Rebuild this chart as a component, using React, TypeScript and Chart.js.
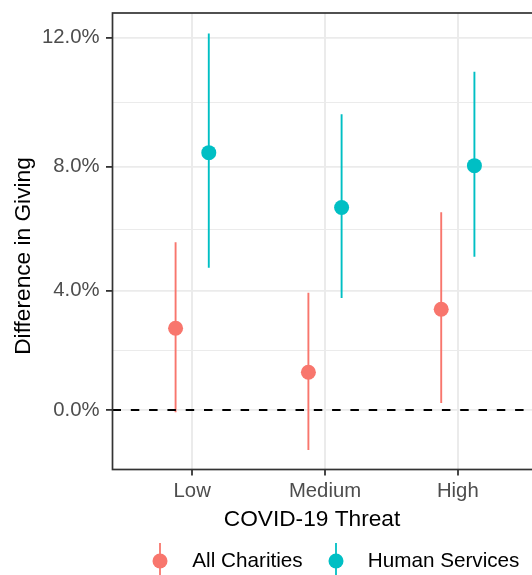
import React, { useEffect, useRef } from "react";
import { Chart, registerables } from "chart.js";

Chart.register(...registerables);

const categories = ["Low", "Medium", "High"];
const seriesNames = ["All Charities", "Human Services"];
const seriesColors = ["#F8766D", "#00BFC4"];
const allCharitiesEst = [2.76, 1.28, 3.39];
const allCharitiesLow = [-0.08, -1.38, 0.24];
const allCharitiesHigh = [5.58, 3.93, 6.55];
const humanServicesEst = [8.44, 6.7, 8.03];
const humanServicesLow = [4.75, 3.76, 5.11];
const humanServicesHigh = [12.12, 9.64, 10.95];
const yTickValues = [0, 2, 4, 6, 8, 10, 12];
const yRange = [-2.06, 12.74];
const xTitle = "COVID-19 Threat";
const yTitle = "Difference in Giving";

const DODGE = 0.125;
const W = 545;
const H = 575;
const FONT = "'Liberation Sans', Arial, Helvetica, sans-serif";

// axis is linear in exp(v)-1 where v is the labelled value
const toAxis = (p: number) => Math.exp(p / 100) - 1;

function errorSegments(lo: number[], hi: number[], off: number) {
  const out: any[] = [];
  categories.forEach((_, i) => {
    out.push({ x: i + off, y: toAxis(lo[i]) });
    out.push({ x: i + off, y: toAxis(hi[i]) });
    out.push({ x: i + off, y: null });
  });
  return out;
}
function points(est: number[], off: number) {
  return categories.map((_, i) => ({ x: i + off, y: toAxis(est[i]) }));
}

const decorPlugin = {
  id: "decor",
  afterDatasetsDraw(chart: any) {
    const { ctx, chartArea } = chart;
    ctx.save();
    ctx.strokeStyle = "#333333";
    ctx.lineWidth = 1.7;
    ctx.strokeRect(chartArea.left, chartArea.top, chartArea.right - chartArea.left, chartArea.bottom - chartArea.top);
    ctx.restore();
  },
  afterDraw(chart: any) {
    const { ctx } = chart;
    ctx.save();
    ctx.fillStyle = "#000000";
    ctx.font = `22.7px ${FONT}`;
    ctx.textAlign = "center";
    ctx.textBaseline = "middle";
    ctx.fillText(xTitle, 312, 520);
    ctx.save();
    ctx.translate(24, 256);
    ctx.rotate(-Math.PI / 2);
    ctx.fillText(yTitle, 0, 0);
    ctx.restore();
    const keyX = [160, 336];
    const textX = [192.3, 367.7];
    const ly = 561;
    seriesNames.forEach((name, i) => {
      ctx.strokeStyle = seriesColors[i];
      ctx.lineWidth = 1.8;
      ctx.beginPath();
      ctx.moveTo(keyX[i], ly - 18);
      ctx.lineTo(keyX[i], ly + 14);
      ctx.stroke();
      ctx.fillStyle = seriesColors[i];
      ctx.beginPath();
      ctx.arc(keyX[i], ly, 7.5, 0, Math.PI * 2);
      ctx.fill();
      ctx.fillStyle = "#000000";
      ctx.font = `20.7px ${FONT}`;
      ctx.textAlign = "left";
      ctx.textBaseline = "middle";
      ctx.fillText(name, textX[i], ly);
    });
    ctx.restore();
  },
};

export default function App() {
  const ref = useRef<HTMLCanvasElement>(null);
  useEffect(() => {
    if (!ref.current) return;
    const chart = new Chart(ref.current, {
      type: "scatter",
      data: {
        datasets: [
          {
            data: points(allCharitiesEst, -DODGE),
            backgroundColor: seriesColors[0],
            borderWidth: 0,
            pointRadius: 7.5,
            order: 1,
          },
          {
            data: points(humanServicesEst, DODGE),
            backgroundColor: seriesColors[1],
            borderWidth: 0,
            pointRadius: 7.5,
            order: 1,
          },
          {
            type: "line",
            data: [
              { x: -0.6, y: 0 },
              { x: 2.6, y: 0 },
            ],
            borderColor: "#000000",
            borderWidth: 2,
            borderDash: [8.5, 9.8],
            pointRadius: 0,
            order: 2,
          },
          {
            type: "line",
            data: errorSegments(allCharitiesLow, allCharitiesHigh, -DODGE),
            borderColor: seriesColors[0],
            borderWidth: 1.9,
            pointRadius: 0,
            spanGaps: false,
            order: 3,
          },
          {
            type: "line",
            data: errorSegments(humanServicesLow, humanServicesHigh, DODGE),
            borderColor: seriesColors[1],
            borderWidth: 1.9,
            pointRadius: 0,
            spanGaps: false,
            order: 3,
          },
        ] as any,
      },
      options: {
        animation: false,
        responsive: false,
        devicePixelRatio: 1,
        layout: { padding: { left: 0, right: W - 537.5, top: 13, bottom: 0 } },
        plugins: { legend: { display: false }, tooltip: { enabled: false } },
        scales: {
          x: {
            type: "linear",
            min: -0.6,
            max: 2.6,
            afterFit: (s: any) => {
              s.height = 105.5;
              s.paddingLeft = 0;
              s.paddingRight = 0;
            },
            afterBuildTicks: (s: any) => {
              s.ticks = categories.map((_, i) => ({ value: i }));
            },
            ticks: {
              callback: (v: any) => categories[v] ?? "",
              color: "#4D4D4D",
              font: { size: 20.3, family: FONT },
              padding: 4,
              maxRotation: 0,
              autoSkip: false,
            },
            grid: {
              color: "#EBEBEB",
              lineWidth: 2,
              tickColor: "#333333",
              tickLength: 6,
              tickWidth: 1.8,
            },
            border: { display: false },
          },
          y: {
            type: "linear",
            min: toAxis(yRange[0]),
            max: toAxis(yRange[1]),
            afterFit: (s: any) => {
              s.width = 112.5;
              s.paddingTop = 0;
              s.paddingBottom = 0;
            },
            afterBuildTicks: (s: any) => {
              s.ticks = yTickValues.map((v) => ({ value: toAxis(v) }));
            },
            ticks: {
              callback: (_v: any, i: number) => (i % 2 === 0 ? yTickValues[i].toFixed(1) + "%" : ""),
              color: "#4D4D4D",
              font: { size: 20.3, family: FONT },
              padding: 6.5,
              autoSkip: false,
            },
            grid: {
              color: "#EBEBEB",
              lineWidth: (c: any) => (c.index % 2 === 0 ? 1.8 : 1.1),
              tickColor: (c: any) => (c.index % 2 === 0 ? "#333333" : "rgba(0,0,0,0)"),
              tickLength: 6.5,
              tickWidth: 1.8,
            },
            border: { display: false },
          },
        },
      },
      plugins: [decorPlugin],
    } as any);
    return () => chart.destroy();
  }, []);
  return (
    <div style={{ position: "fixed", left: 0, top: 0, width: 532, height: 575, overflow: "hidden", background: "#fff" }}>
      <canvas ref={ref} width={W} height={H} style={{ width: W, height: H, display: "block" }} />
    </div>
  );
}
